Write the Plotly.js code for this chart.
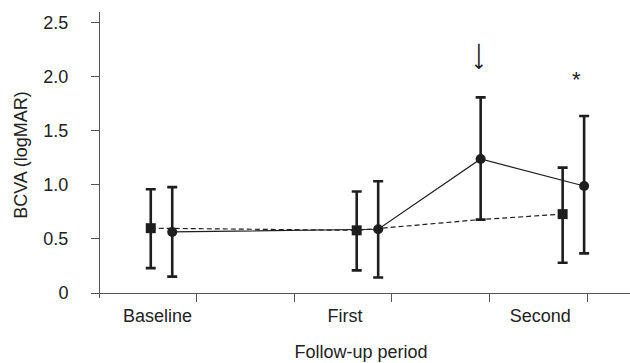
<!DOCTYPE html>
<html>
<head>
<meta charset="utf-8">
<script src="https://cdn.plot.ly/plotly-3.0.1.min.js"></script>
<style>html,body{margin:0;padding:0;background:#fff;}#chart{width:630px;height:363px;}</style>
</head>
<body>
<div id="chart"></div>
<script>
// Group A (squares, dashed line)
const squareX = [0.53, 2.64, 4.75];
const squareY = [0.60, 0.58, 0.73];
const squareErrUp = [0.36, 0.36, 0.43];
const squareErrDown = [0.37, 0.37, 0.45];
// dashed connecting line of group A (passes an unmarked point at the arrow position)
const dashX = [0.53, 2.64, 3.91, 4.75];
const dashY = [0.60, 0.58, 0.68, 0.73];
// Group B (circles, solid line)
const circleX = [0.75, 2.86, 3.91, 4.97];
const circleY = [0.565, 0.59, 1.24, 0.99];
const circleErrUp = [0.415, 0.444, 0.57, 0.648];
const circleErrDown = [0.413, 0.447, 0.561, 0.623];
// axis labels
const periodLabels = ['Baseline', 'First', 'Second'];
const periodPos = [0.6, 2.52, 4.52];
const xTickVals = [1, 2, 3, 4, 5];
const yTickVals = [0, 0.5, 1.0, 1.5, 2.0, 2.5];
const yTickText = ['0', '0.5', '1.0', '1.5', '2.0', '2.5'];

const ink = '#1e1e1e';
const font = 'Liberation Sans, Arial, Helvetica, sans-serif';

const traces = [
  {x: dashX, y: dashY, type: 'scatter', mode: 'lines',
   line: {color: ink, width: 1.2, dash: '5px,3px'}, hoverinfo: 'skip', showlegend: false},
  {x: circleX, y: circleY, type: 'scatter', mode: 'lines+markers',
   line: {color: ink, width: 1.2},
   marker: {symbol: 'circle', size: 10, color: ink},
   error_y: {type: 'data', symmetric: false, array: circleErrUp, arrayminus: circleErrDown,
             color: ink, thickness: 2.6, width: 5},
   showlegend: false},
  {x: squareX, y: squareY, type: 'scatter', mode: 'markers',
   marker: {symbol: 'square', size: 10, color: ink},
   error_y: {type: 'data', symmetric: false, array: squareErrUp, arrayminus: squareErrDown,
             color: ink, thickness: 2.6, width: 5},
   showlegend: false},
  {x: periodPos, y: [null, null, null], xaxis: 'x2', type: 'scatter', mode: 'markers',
   hoverinfo: 'skip', showlegend: false}
];

const xRange = [-0.072, 5.44];
const yRange = [-0.046, 2.6];

const layout = {
  width: 630, height: 363,
  margin: {l: 92, r: 0, t: 12, b: 65},
  paper_bgcolor: '#fff', plot_bgcolor: '#fff',
  font: {family: font, size: 18, color: '#222'},
  showlegend: false,
  xaxis: {
    range: xRange, tickvals: xTickVals, showticklabels: false,
    ticks: 'outside', ticklen: 8, tickcolor: '#555', tickwidth: 1,
    showline: true, linecolor: '#555', linewidth: 1,
    showgrid: false, zeroline: false,
    anchor: 'free', position: 0.0174
  },
  xaxis2: {
    overlaying: 'x', range: xRange, tickvals: periodPos, ticktext: periodLabels,
    ticks: '', showline: false, showgrid: false, zeroline: false,
    anchor: 'free', position: 0.0174, side: 'bottom',
    ticklabelstandoff: 10,
    tickfont: {size: 18, color: '#222'},
    title: {text: 'Follow-up period', font: {size: 18, color: '#222'}, standoff: 20}
  },
  yaxis: {
    range: yRange, tickvals: yTickVals, ticktext: yTickText,
    ticks: 'outside', ticklen: 8, tickcolor: '#555', tickwidth: 1,
    showline: true, linecolor: '#555', linewidth: 1,
    showgrid: false, zeroline: false,
    anchor: 'free', position: 0.013,
    ticklabelstandoff: 19,
    tickfont: {size: 18, color: '#222'},
    title: {text: 'BCVA (logMAR)', font: {size: 18, color: '#222'}, standoff: 10}
  },
  annotations: [
    {x: 3.90, y: 2.19, xref: 'x', yref: 'y', text: '⟶', textangle: 90, showarrow: false,
     font: {family: 'DejaVu Sans', size: 19, color: '#222'}},
    {x: 4.89, y: 1.98, xref: 'x', yref: 'y', text: '*', showarrow: false,
     font: {size: 22, color: '#222'}}
  ]
};

Plotly.newPlot('chart', traces, layout, {staticPlot: true, displayModeBar: false});
</script>
</body>
</html>
